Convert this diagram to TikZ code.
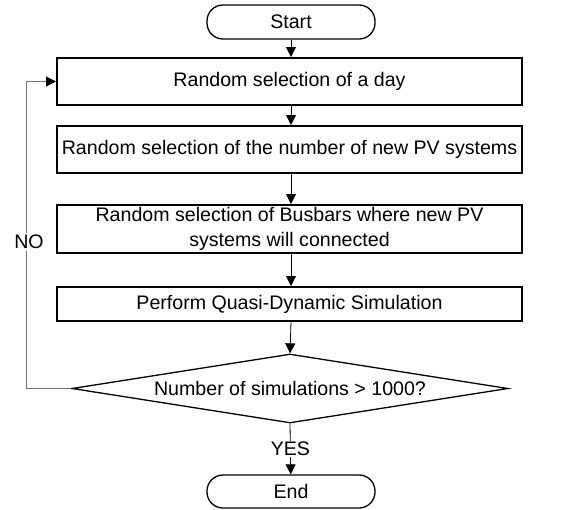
\documentclass[tikz,border=0pt]{standalone}
\usepackage{fontspec}
\setmainfont{Liberation Sans}
\usetikzlibrary{shapes.geometric,arrows.meta}
\begin{document}
\begin{tikzpicture}[x=1pt,y=-1pt,
  every node/.style={font=\fontsize{19.6}{25}\selectfont},
  terminal/.style={draw,line width=1.3pt,rounded corners=16pt,minimum width=168pt,inner sep=0pt},
  process/.style={draw,line width=2pt,minimum width=465pt,inner sep=0pt,align=center},
  decision/.style={draw,line width=1.3pt,diamond,aspect=6.3,minimum width=436pt,minimum height=69pt,inner sep=0pt},
  flow/.style={line width=0.8pt,-{Triangle[length=10pt,width=10pt]}},
  loopline/.style={line width=1pt,draw=black!55},
  looparrow/.style={loopline,-{Triangle[length=10pt,width=10pt,color=black,fill=black]}}]
\useasboundingbox (0,0) rectangle (565,509);

\node[terminal,minimum height=34pt] (start) at (291,22) {Start};
\node[process,minimum height=47pt] (day) at (289.5,81.5) {Random selection of a day};
\node[process,minimum height=47pt] (num) at (289.5,149.5) {Random selection of the number of new PV systems};
\node[process,minimum height=48pt] (bus) at (289.5,229) {Random selection of Busbars where new PV\\systems will connected};
\node[process,minimum height=34pt] (sim) at (289.5,304) {Perform Quasi-Dynamic Simulation};
\node[decision] (dec) at (290,388.5) {Number of simulations > 1000?};
\node[terminal,minimum height=33pt] (end) at (291,491.5) {End};
\coordinate (back) at (26,388.5);
\coordinate (top) at (26,81.5);
\node (no) at (29,242) [inner sep=2pt] {NO};

\draw[flow] (start) -- (start|-day.north);
\draw[flow] (day.south-|start) -- (start|-num.north);
\draw[flow] (num.south-|start) -- (start|-bus.north);
\draw[flow] (bus.south-|start) -- (start|-sim.north);
\draw[flow] (sim.south-|start) -- (dec.north);
\draw[flow] (dec.south) -- node[fill=white,inner sep=1pt,pos=0.5] {YES} (end);
\draw[loopline] (dec.west) -- (back) -- (back|-no.south);
\draw[looparrow] (back|-no.north) -- (top) -- (day.west);
\end{tikzpicture}
\end{document}
